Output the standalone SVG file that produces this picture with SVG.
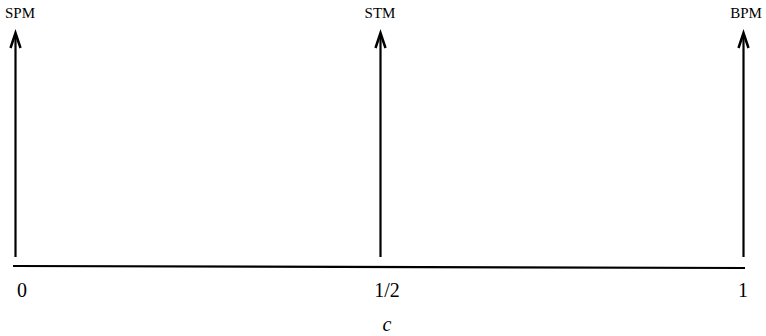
<svg xmlns="http://www.w3.org/2000/svg" width="766" height="336" viewBox="0 0 766 336">
<defs>
<style>
.ln{stroke:#000;stroke-width:2.2;fill:none}
.hd{stroke:#000;stroke-width:2.5;fill:none;stroke-linejoin:miter}
.lbl{font-family:"Liberation Serif",serif;font-size:15px;fill:#000;text-anchor:middle}
.tk{font-family:"Liberation Serif",serif;font-size:20px;fill:#000;text-anchor:middle}
</style>
</defs>
<rect width="766" height="336" fill="#fff"/>
<g id="connectors">
<path class="ln" d="M13 266 L745 268"/>
<path class="ln" d="M15.5 257 V34"/>
<path class="hd" d="M10.5 48 L15.5 33 L20.5 48"/>
<path class="ln" d="M380.5 257 V34"/>
<path class="hd" d="M375.5 48 L380.5 33 L385.5 48"/>
<path class="ln" d="M743.5 257 V34"/>
<path class="hd" d="M738.5 48 L743.5 33 L748.5 48"/>
</g>
<g id="spm"><text class="lbl" x="20" y="18">SPM</text></g>
<g id="stm"><text class="lbl" x="380" y="18">STM</text></g>
<g id="bpm"><text class="lbl" x="746" y="18">BPM</text></g>
<g id="t0"><text class="tk" x="22" y="297">0</text></g>
<g id="thalf"><text class="tk" x="387" y="297">1/2</text></g>
<g id="t1"><text class="tk" x="743" y="297">1</text></g>
<g id="c"><text class="tk" x="387" y="331" font-style="italic" font-size="31">c</text></g>
</svg>
